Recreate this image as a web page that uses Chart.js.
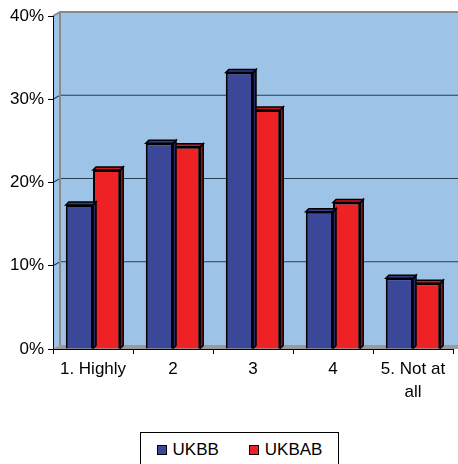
<!DOCTYPE html>
<html>
<head>
<meta charset="utf-8">
<script src="https://cdn.jsdelivr.net/npm/chart.js@4"></script>
<style>
  body { margin: 0; background: #fff; }
  #wrap { position: relative; width: 458px; height: 464px; overflow: hidden; }
  #legend {
    position: absolute; left: 140px; top: 432px; width: 199px; height: 40px;
    border: 1px solid #000; background: #fff;
    font-family: "Liberation Sans", Arial, sans-serif; font-size: 17px; color: #000;
    display: flex; justify-content: center; gap: 30px; padding-top: 7px; box-sizing: border-box;
  }
  #legend span.sw { display: inline-block; width: 8px; height: 8px; border: 1px solid #000; margin-right: 6px; vertical-align: 0px; }
</style>
</head>
<body>
<div id="wrap">
  <canvas id="chart" width="458" height="464"></canvas>
  <div id="legend"></div>
</div>
<script>
// Chart data
const categories = ['1. Highly', '2', '3', '4', ['5. Not at', 'all']];
const seriesNames = ['UKBB', 'UKBAB'];
const ukbb = [17.3, 24.7, 33.2, 16.5, 8.5];
const ukbab = [21.5, 24.3, 28.7, 17.6, 7.9];
const yTicks = [0, 10, 20, 30, 40];

const colors = ['#3B4799', '#EE2224'];
const sideColors = ['#222a66', '#a01014'];
const topColors = ['#323d88', '#c81a1c'];

// wall offset (3D back wall) and bar depth
const wallDx = 7, wallDy = 4;
const barDx = 3, barDy = 3;

const threeD = {
    id: 'threeD',
    beforeDraw(chart) {
        const { ctx, chartArea: a, scales: { y } } = chart;
        ctx.save();
        // back + side wall
        ctx.fillStyle = '#9DC3E6';
        ctx.beginPath();
        ctx.moveTo(a.left, a.top);
        ctx.lineTo(a.left + wallDx, a.top - wallDy);
        ctx.lineTo(chart.width, a.top - wallDy);
        ctx.lineTo(chart.width, a.bottom);
        ctx.lineTo(a.left, a.bottom);
        ctx.closePath();
        ctx.fill();
        // floor
        ctx.fillStyle = '#9a9a9a';
        ctx.beginPath();
        ctx.moveTo(a.left, a.bottom);
        ctx.lineTo(a.left + wallDx, a.bottom - wallDy);
        ctx.lineTo(chart.width, a.bottom - wallDy);
        ctx.lineTo(chart.width, a.bottom);
        ctx.closePath();
        ctx.fill();
        // grid lines on the back wall
        yTicks.forEach(v => {
            const py = y.getPixelForValue(v);
            if (v === 0) return;
            const top = v === yTicks[yTicks.length - 1];
            ctx.strokeStyle = top ? '#8a8a8a' : '#2c3e50';
            ctx.lineWidth = top ? 2 : 1.2;
            ctx.beginPath();
            ctx.moveTo(a.left, py);
            ctx.lineTo(a.left + wallDx, py - wallDy);
            ctx.lineTo(chart.width, py - wallDy);
            ctx.stroke();
        });
        // wall corner edge
        ctx.strokeStyle = '#8a8a8a';
        ctx.lineWidth = 2;
        ctx.beginPath();
        ctx.moveTo(a.left + wallDx, a.top - wallDy);
        ctx.lineTo(a.left + wallDx, a.bottom - wallDy);
        ctx.stroke();
        ctx.restore();
    },
    afterDatasetDraw(chart, args) {
        const { ctx } = chart;
        const i = args.index;
        ctx.save();
        ctx.strokeStyle = '#000';
        ctx.lineWidth = 1.5;
        chart.getDatasetMeta(i).data.forEach(bar => {
            const l = bar.x - bar.width / 2, r = bar.x + bar.width / 2;
            const t = bar.y, b = bar.base;
            // right side
            ctx.fillStyle = sideColors[i];
            ctx.beginPath();
            ctx.moveTo(r, t);
            ctx.lineTo(r + barDx, t - barDy);
            ctx.lineTo(r + barDx, b - barDy);
            ctx.lineTo(r, b);
            ctx.closePath();
            ctx.fill();
            ctx.stroke();
            // top
            ctx.fillStyle = topColors[i];
            ctx.beginPath();
            ctx.moveTo(l, t);
            ctx.lineTo(l + barDx, t - barDy);
            ctx.lineTo(r + barDx, t - barDy);
            ctx.lineTo(r, t);
            ctx.closePath();
            ctx.fill();
            ctx.stroke();
        });
        ctx.restore();
    }
};

const font = { family: '"Liberation Sans", Arial, sans-serif', size: 17 };

const chart = new Chart(document.getElementById('chart').getContext('2d'), {
    type: 'bar',
    data: {
        labels: categories,
        datasets: [
            { label: seriesNames[0], data: ukbb, backgroundColor: colors[0], borderColor: '#000', borderWidth: 2 },
            { label: seriesNames[1], data: ukbab, backgroundColor: colors[1], borderColor: '#000', borderWidth: 2 }
        ]
    },
    options: {
        responsive: false,
        animation: false,
        layout: { padding: { top: 16, right: 5, left: 0, bottom: 0 } },
        plugins: { legend: { display: false }, tooltip: { enabled: false } },
        datasets: { bar: { categoryPercentage: 0.68, barPercentage: 1 } },
        scales: {
            x: {
                grid: { display: true, drawOnChartArea: false, offset: true, tickLength: 5, color: '#000' },
                border: { color: '#000', width: 1 },
                ticks: { color: '#000', font: { ...font, lineHeight: 1.35 }, padding: 4, maxRotation: 0, autoSkip: false },
                afterFit: s => { s.height = 115; }
            },
            y: {
                min: 0, max: 40,
                afterBuildTicks: s => { s.ticks = yTicks.map(v => ({ value: v })); },
                grid: { display: true, drawOnChartArea: false, tickLength: 5, color: '#000' },
                border: { color: '#000', width: 1 },
                ticks: { color: '#000', font: font, padding: 4, callback: v => v + '%' },
                afterFit: s => { s.width = 53; }
            }
        }
    },
    plugins: [threeD]
});

// HTML legend from the datasets
document.getElementById('legend').innerHTML = seriesNames.map((n, i) =>
    `<div><span class="sw" style="background:${colors[i]}"></span>${n}</div>`).join('');
</script>
</body>
</html>
